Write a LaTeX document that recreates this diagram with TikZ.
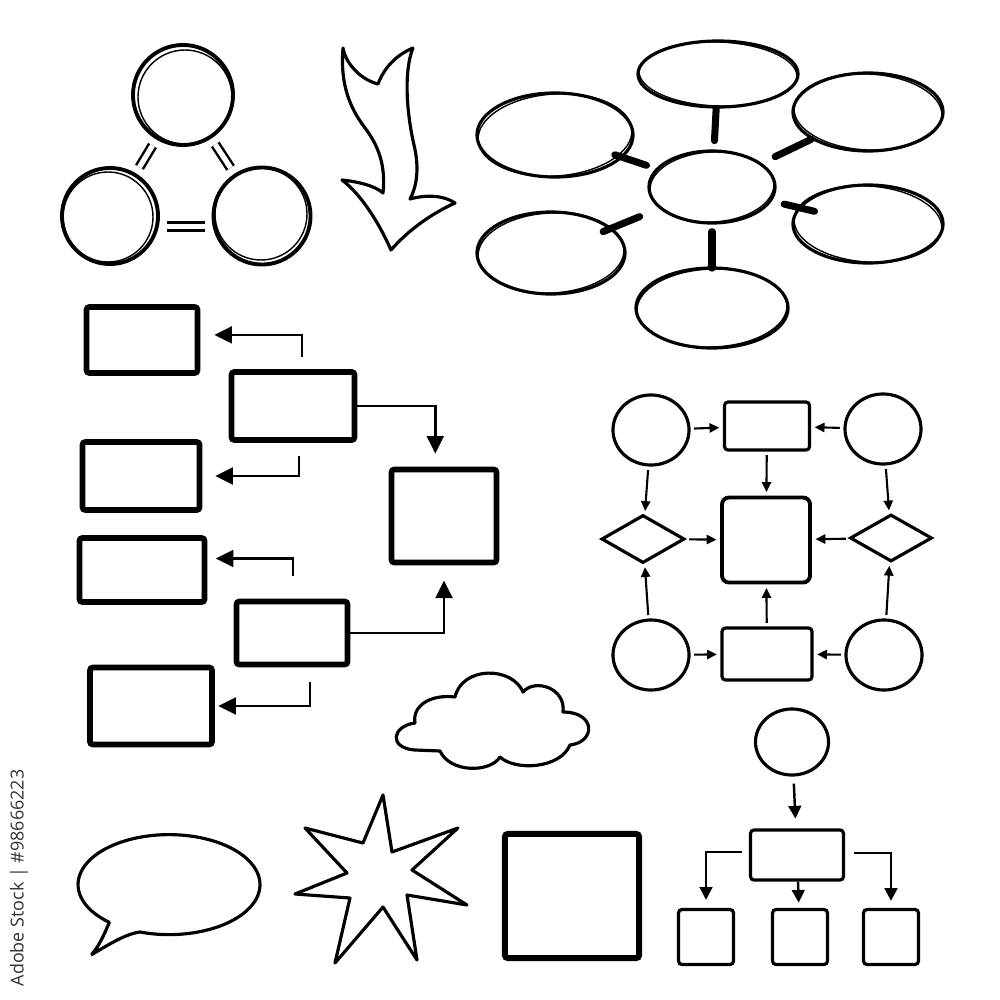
\documentclass[tikz,border=0pt]{standalone}
\usepackage{fontspec}
\newfontfamily\stockfont{Open Sans}
\usepackage{tikz}
\usetikzlibrary{arrows.meta,shapes.geometric,calc}

\begin{document}
\begin{tikzpicture}[x=0.01cm,y=-0.01cm,
    ring/.style={draw,circle,inner sep=0pt,line width=1.1pt},
    blob/.style={draw,ellipse,inner sep=0pt,line width=0.9pt},
    box/.style={draw,inner sep=0pt,line width=1.6pt,rounded corners=0.8pt},
    lbox/.style={draw,inner sep=0pt,line width=0.9pt,rounded corners=1pt},
    rhomb/.style={draw,diamond,inner sep=0pt,line width=0.9pt,aspect=1.7},
    link/.style={double,double distance=1.5pt,line width=0.7pt,shorten <=2pt,shorten >=2pt},
    bar/.style={line width=2pt,line cap=round},
    elbow/.style={-{Triangle[length=5pt,width=4.8pt]},line width=0.7pt},
    flow/.style={-{Triangle[length=2.8pt,width=2.6pt]},line width=0.6pt,shorten <=1pt,shorten >=1pt},
    drop/.style={-{Triangle[length=3.6pt,width=3.6pt]},line width=0.7pt},
    outline/.style={line width=0.9pt,line join=round}]

  \useasboundingbox (0,0) rectangle (1000,1000);

  \node[rotate=90,text=black!80,font=\stockfont\fontsize{5.1}{6}\selectfont] (ws) at (19,878) {Adobe Stock | \#98666223};

  % three circles
  \node[ring,minimum size=1cm] (t) at (183,95) {};
  \node[ring,minimum size=0.96cm] (l) at (110,216) {};
  \node[ring,minimum size=0.97cm] (r) at (262,216) {};
  \draw[line width=0.4pt] (t) ++(2,2) circle[radius=47] (l) ++(-2,1) circle[radius=45] (r) ++(-1,-2) circle[radius=46];
  \draw[link] (t) -- (l);
  \draw[link] (t) -- (r);
  \draw[link] ([yshift=-3pt]l.east) -- ([yshift=-3pt]r.west);

  % bent arrow
  \draw[outline] (343,48) .. controls (346,65) and (362,80) .. (378,84)
    .. controls (384,68) and (396,55) .. (413,48)
    .. controls (404,70) and (406,110) .. (414,145)
    .. controls (420,170) and (416,188) .. (410,199)
    .. controls (428,194) and (445,196) .. (455,203)
    .. controls (435,212) and (410,228) .. (391,250)
    .. controls (380,225) and (362,195) .. (342,180)
    .. controls (360,182) and (375,186) .. (383,193)
    .. controls (386,165) and (378,145) .. (365,128)
    .. controls (350,108) and (340,85) .. (343,48) -- cycle;

  % mind map
  \node[blob,minimum width=1.26cm,minimum height=0.72cm] (m) at (712,187) {};
  \node[blob,minimum width=1.6cm,minimum height=0.66cm] (n) at (718,74) {};
  \node[blob,minimum width=1.56cm,minimum height=0.84cm] (nw) at (555,135) {};
  \node[blob,minimum width=1.5cm,minimum height=0.78cm] (ne) at (868,112) {};
  \node[blob,minimum width=1.48cm,minimum height=0.82cm] (sw) at (551,253) {};
  \node[blob,minimum width=1.5cm,minimum height=0.78cm] (se) at (868,224) {};
  \node[blob,minimum width=1.52cm,minimum height=0.8cm] (s) at (712,308) {};
  \foreach \e/\a/\b/\w in {m/62/35/3, n/79/32/-2, nw/77/41/4, ne/74/38/-3, sw/73/40/3, se/74/38/-4, s/75/39/2}
    \draw[line width=0.4pt,rotate around={\w:(\e)}] (\e) ellipse[x radius=\a,y radius=\b];
  \draw[bar,shorten <=2.5pt] (m) -- (n);
  \draw[bar,shorten <=2.8pt,shorten >=-2.5pt] (m) -- (nw);
  \draw[bar,shorten <=4.2pt] (m) -- (ne);
  \draw[bar,shorten <=6pt,shorten >=-2.8pt] (m) -- (sw);
  \draw[bar,shorten <=3.6pt,shorten >=-4.8pt] (m) -- (se);
  \draw[bar,shorten <=2pt,shorten >=-0.5pt] (m) -- (s);

  % left flow chart
  \node[box,minimum width=1.11cm,minimum height=0.66cm] (a) at (142,340) {};
  \node[box,minimum width=1.23cm,minimum height=0.68cm] (b) at (293,406) {};
  \node[box,minimum width=1.17cm,minimum height=0.68cm] (c) at (141,476) {};
  \node[box,minimum width=1.25cm,minimum height=0.64cm] (d) at (142,570) {};
  \node[box,minimum width=1.11cm,minimum height=0.63cm] (e) at (292,633) {};
  \node[box,minimum width=1.22cm,minimum height=0.77cm] (f) at (151,706) {};
  \node[box,minimum width=1.05cm,minimum height=0.93cm] (g) at (444,516) {};
  \draw[elbow,shorten >=4pt] ($(b.north)+(9,-12)$) |- (a.5);
  \draw[elbow,shorten >=3.7pt] ($(b.south)+(6,13)$) |- (c.east);
  \draw[elbow,shorten >=2.4pt] ($(e.north)+(1,-23)$) |- (d.10);
  \draw[elbow,shorten >=1pt] ($(e.south)+(18,15)$) |- (f.east);
  \draw[elbow,shorten >=3.7pt] (b.east) -| (g.100);
  \draw[elbow,shorten >=4.3pt] (e.east) -| (g.south);

  % right flow chart
  \node[blob,minimum width=0.76cm,minimum height=0.7cm] (p1) at (651,430) {};
  \node[lbox,minimum width=0.85cm,minimum height=0.48cm] (q1) at (767,426) {};
  \node[blob,minimum width=0.76cm,minimum height=0.7cm] (p2) at (883,429) {};
  \node[rhomb,minimum width=0.83cm,minimum height=0.48cm] (d1) at (643,539) {};
  \node[lbox,line width=1.1pt,minimum width=0.88cm,minimum height=0.85cm,rounded corners=2pt] (o) at (766,540) {};
  \node[rhomb,minimum width=0.82cm,minimum height=0.47cm] (d2) at (891,538) {};
  \node[blob,minimum width=0.76cm,minimum height=0.7cm] (p3) at (651,655) {};
  \node[lbox,minimum width=0.9cm,minimum height=0.52cm] (q2) at (767,654) {};
  \node[blob,minimum width=0.76cm,minimum height=0.7cm] (p4) at (884,655) {};
  \draw[flow] (p1) -- (q1);
  \draw[flow] (p2) -- (q1);
  \draw[flow] (q1) -- (o);
  \draw[flow] (p1) -- (d1);
  \draw[flow] (p2) -- (d2);
  \draw[flow] (d1) -- (o);
  \draw[flow] (d2) -- (o);
  \draw[flow] (p3) -- (d1);
  \draw[flow] (p4) -- (d2);
  \draw[flow] (q2) -- (o);
  \draw[flow] (p3) -- (q2);
  \draw[flow] (p4) -- (q2);

  % tree
  \node[blob,minimum width=0.73cm,minimum height=0.66cm] (k) at (792,742) {};
  \node[lbox,minimum width=0.93cm,minimum height=0.5cm] (h) at (797,855) {};
  \node[lbox,minimum size=0.55cm] (u1) at (706,937) {};
  \node[lbox,minimum size=0.55cm] (u2) at (800,937) {};
  \node[lbox,minimum size=0.55cm] (u3) at (891,937) {};
  \draw[drop,shorten <=2pt,shorten >=2.8pt] (k) -- (h);
  \draw[drop,shorten >=1.5pt] (h) -- (u2);
  \draw[drop,shorten >=2.3pt] ($(h.west)+(-7,-3)$) -| (u1.north);
  \draw[drop,shorten >=2pt] ($(h.east)+(9,-2)$) -| (u3.north);

  % cloud, bubble, star, square
  \draw[outline] (440,751) .. controls (450,773) and (490,773) .. (500,757)
    .. controls (515,771) and (560,769) .. (570,745)
    .. controls (596,742) and (596,712) .. (563,712)
    .. controls (566,688) and (535,678) .. (523,692)
    .. controls (512,666) and (462,666) .. (455,697)
    .. controls (430,694) and (412,706) .. (415,723)
    .. controls (392,726) and (388,748) .. (415,750) -- cycle;
  \draw[outline] (91,955) .. controls (108,945) and (125,934) .. (140,932)
    arc[start angle=108.6,end angle=-229,x radius=91,y radius=50]
    .. controls (104,935) and (99,946) .. (92,954);
  \draw[outline] (383,795) -- (392,852) -- (458,828) -- (412,870) -- (467,905) -- (407,895)
    -- (417,960) -- (383,907) -- (335,963) -- (350,898) -- (295,894) -- (347,873)
    -- (305,828) -- (363,843) -- cycle;
  \node[box,line width=1.7pt,minimum width=1.34cm,minimum height=1.24cm] (w) at (572,896) {};
\end{tikzpicture}
\end{document}
